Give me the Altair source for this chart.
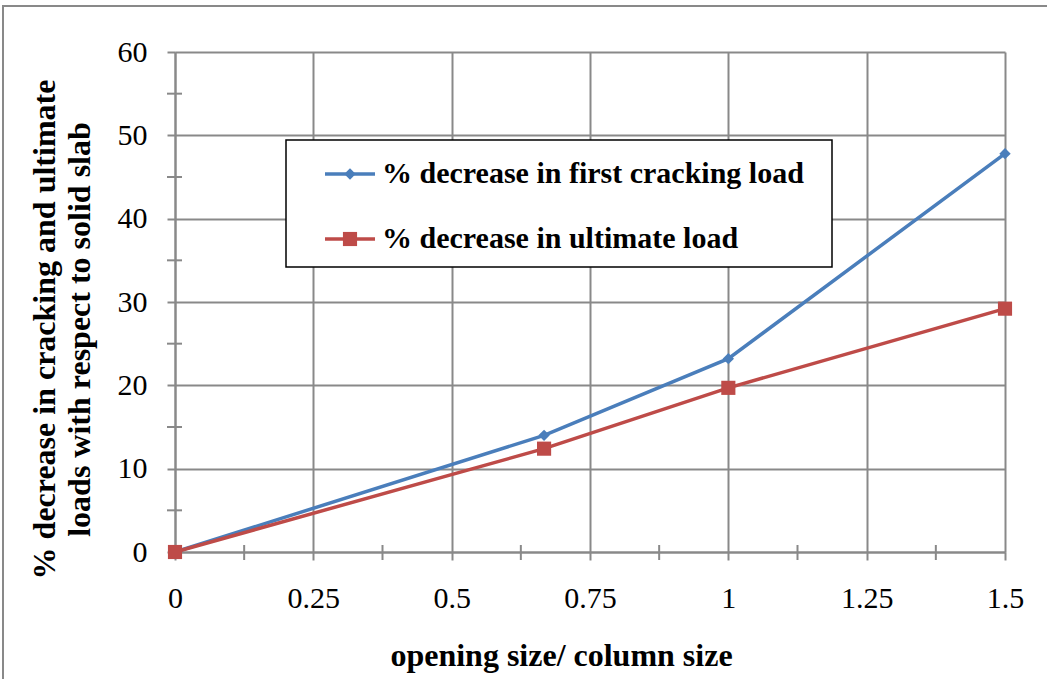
import altair as alt
import pandas as pd

ratio = [0, 0.667, 1.0, 1.5]
first_crack = [0, 14.0, 23.2, 47.8]
ultimate = [0, 12.4, 19.7, 29.2]
series_names = ["% decrease in first cracking load", "% decrease in ultimate load"]
x_ticks = [0, 0.25, 0.5, 0.75, 1, 1.25, 1.5]
x_minor = [0.125, 0.375, 0.625, 0.875, 1.125, 1.375]
y_ticks = [0, 10, 20, 30, 40, 50, 60]
y_minor = [5, 15, 25, 35, 45, 55]
x_title = "opening size/ column size"
y_title = ["% decrease in cracking and ultimate", "loads with respect to solid slab"]

BLUE = "#4A7EBB"
RED = "#BE4B48"
GRID = "#898989"
FONT = "Liberation Serif"

df1 = pd.DataFrame({"x": ratio, "y": first_crack})
df2 = pd.DataFrame({"x": ratio, "y": ultimate})

xs = alt.Scale(domain=[0, 1.5], nice=False)
ys = alt.Scale(domain=[0, 60], nice=False)

xaxis = alt.Axis(values=x_ticks, labelExpr="toString(datum.value)", labelFlush=False,
                 title=x_title, grid=True,
                 gridColor=GRID, gridWidth=2, domainColor=GRID, domainWidth=2,
                 tickColor=GRID, tickWidth=2, tickSize=8,
                 labelFont=FONT, labelFontSize=30, labelColor="black", labelPadding=23,
                 titleFont=FONT, titleFontSize=32, titleFontWeight="bold", titleColor="black",
                 titleX=386, titleY=103, titleBaseline="middle", titleAlign="center")
yaxis = alt.Axis(values=y_ticks, labelExpr="toString(datum.value)", labelFlush=False,
                 title=y_title, grid=True,
                 gridColor=GRID, gridWidth=2, domainColor=GRID, domainWidth=2,
                 tickColor=GRID, tickWidth=2, tickSize=8,
                 labelFont=FONT, labelFontSize=30, labelColor="black", labelPadding=20,
                 titleFont=FONT, titleFontSize=32, titleFontWeight="bold", titleColor="black",
                 titleX=-131, titleY=277, titleBaseline="middle", titleAlign="center",
                 titleLineHeight=35, titleAngle=270)

one = pd.DataFrame({"a": [0]})

frame = alt.Chart(one).mark_rect(fillOpacity=0, stroke=GRID, strokeWidth=2).encode(
    x=alt.value(-172), x2=alt.value(890), y=alt.value(-46), y2=alt.value(650))

base = alt.Chart(df1).mark_line(color=BLUE, strokeWidth=3.5).encode(
    x=alt.X("x:Q", scale=xs, axis=xaxis),
    y=alt.Y("y:Q", scale=ys, axis=yaxis))

xm = alt.Chart(pd.DataFrame({"x": x_minor})).mark_rule(color=GRID, strokeWidth=2).encode(
    x=alt.X("x:Q", scale=xs), y=alt.value(493), y2=alt.value(508))
ym = alt.Chart(pd.DataFrame({"y": y_minor})).mark_rule(color=GRID, strokeWidth=2).encode(
    y=alt.Y("y:Q", scale=ys), x=alt.value(-8), x2=alt.value(7))

line2 = alt.Chart(df2).mark_line(color=RED, strokeWidth=3.5).encode(
    x=alt.X("x:Q", scale=xs), y=alt.Y("y:Q", scale=ys))
pts1 = alt.Chart(df1).mark_point(shape="diamond", filled=True, color=BLUE, size=130, opacity=1).encode(
    x=alt.X("x:Q", scale=xs), y=alt.Y("y:Q", scale=ys))
pts2 = alt.Chart(df2).mark_point(shape="square", filled=True, color=RED, size=200, opacity=1).encode(
    x=alt.X("x:Q", scale=xs), y=alt.Y("y:Q", scale=ys))

leg_box = alt.Chart(one).mark_rect(fill="white", stroke="black", strokeWidth=1.5).encode(
    x=alt.value(111), x2=alt.value(657), y=alt.value(88), y2=alt.value(215))

leg_layers = []
rows = [(122, BLUE, "diamond", 130), (187, RED, "square", 200)]
for (yy, col, shp, sz), name in zip(rows, series_names):
    leg_layers.append(alt.Chart(one).mark_rule(color=col, strokeWidth=3.5).encode(
        x=alt.value(150), x2=alt.value(200), y=alt.value(yy)))
    leg_layers.append(alt.Chart(one).mark_point(shape=shp, filled=True, color=col, size=sz, opacity=1).encode(
        x=alt.value(175), y=alt.value(yy)))
    leg_layers.append(alt.Chart(one).mark_text(text=name, font=FONT, fontSize=30, fontWeight="bold",
                                               align="left", baseline="middle", color="black").encode(
        x=alt.value(207), y=alt.value(yy)))

chart = alt.layer(frame, base, xm, ym, line2, pts1, pts2, leg_box, *leg_layers).properties(
    width=830, height=500,
    autosize=alt.AutoSizeParams(type="none"),
    padding={"left": 175, "top": 52, "right": 42, "bottom": 127},
    background="white"
).configure_view(stroke=None)

chart.save("out.html", embed_options={"renderer": "svg", "actions": False})
